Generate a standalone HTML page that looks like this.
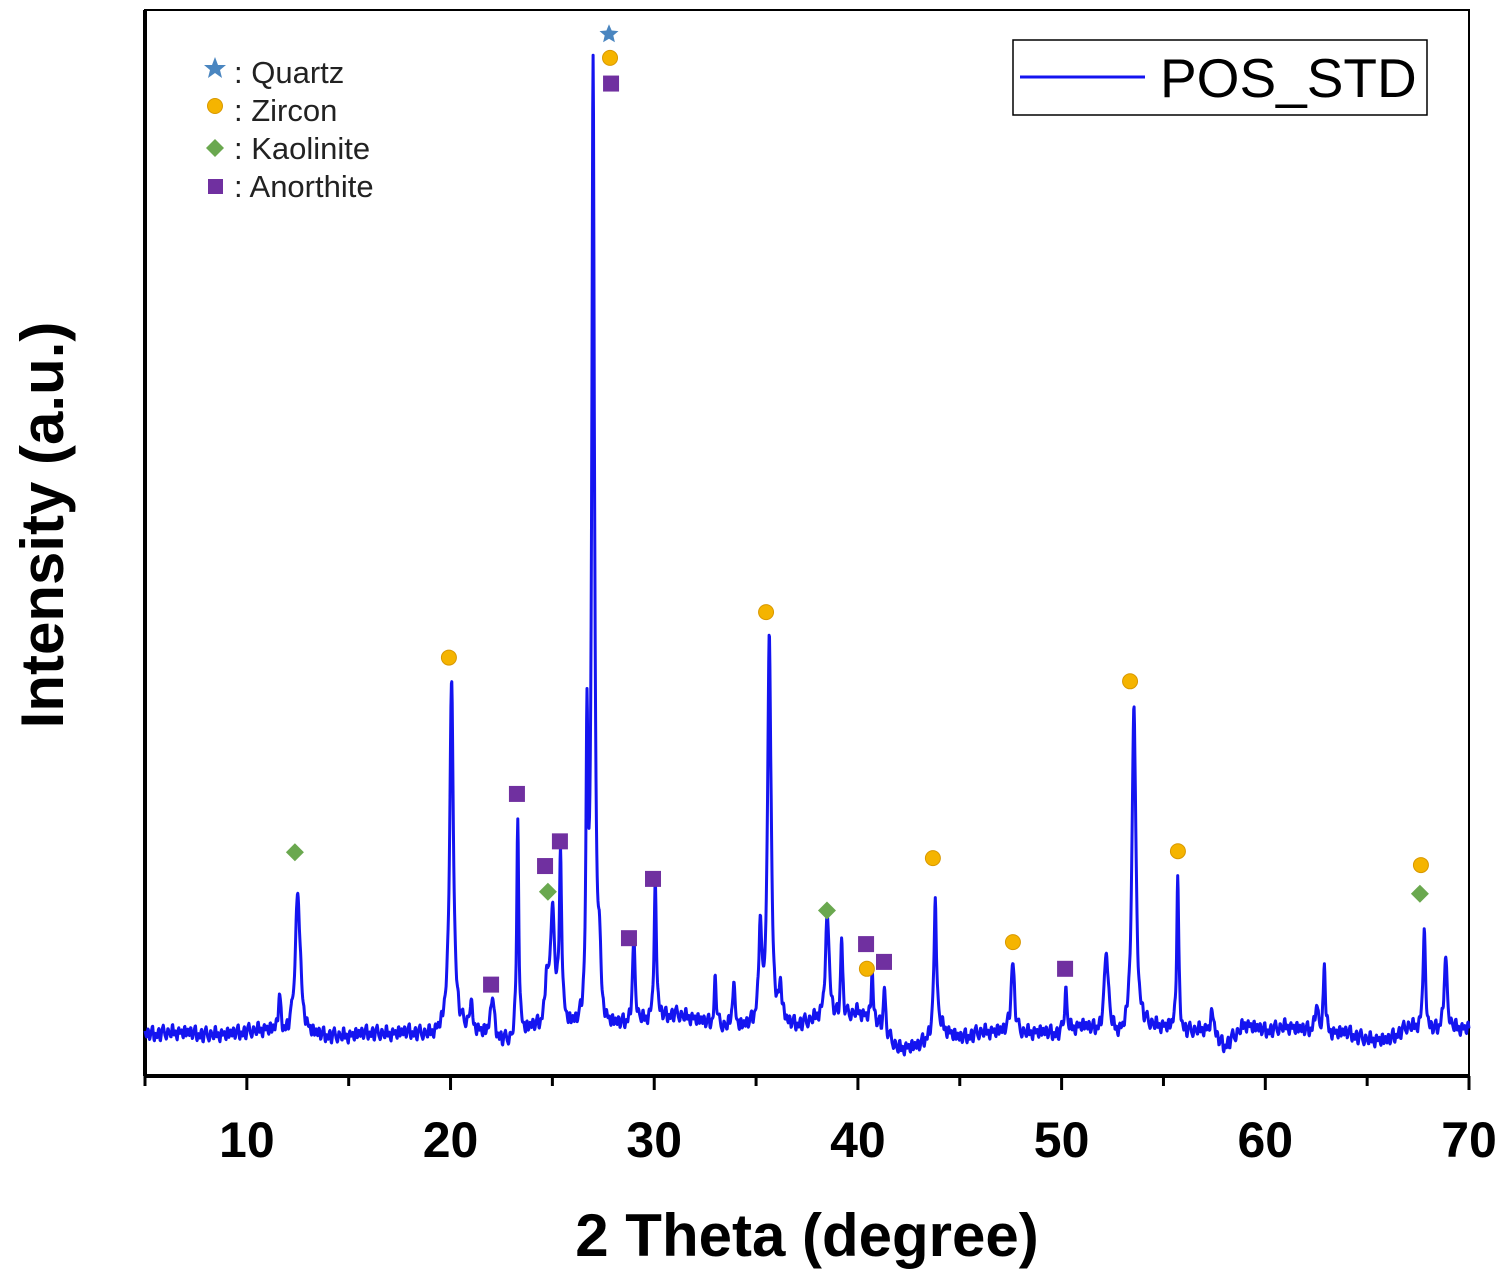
<!DOCTYPE html>
<html><head><meta charset="utf-8">
<style>
html,body{margin:0;padding:0;background:#fff;}
svg{display:block;font-family:"Liberation Sans",Arial,sans-serif;}
</style></head>
<body>
<svg id="chart" width="1508" height="1274" viewBox="0 0 1508 1274">
  <rect x="145" y="10" width="1324" height="1066" fill="#fff" stroke="#000" stroke-width="2"/>
  <line x1="145" y1="10" x2="145" y2="1076" stroke="#000" stroke-width="4"/>
  <line x1="145" y1="1076" x2="1469" y2="1076" stroke="#000" stroke-width="4"/>
  <g id="ticks"></g>
  <path id="spectrum" fill="none" stroke="#1414f0" stroke-width="3" stroke-linejoin="round"/>
  <g id="markers"></g>
  <g font-size="31" fill="#222">
    <polygon points="215,57 218,65 226,65 220,70 222,78 215,73 208,78 210,70 204,65 212,65" fill="#4a86c0"/>
    <text x="234" y="83">: Quartz</text>
    <circle cx="215" cy="106" r="7.5" fill="#f5b400" stroke="#d89800"/>
    <text x="234" y="121">: Zircon</text>
    <polygon points="215,139 224,148 215,157 206,148" fill="#6aa84f"/>
    <text x="234" y="159">: Kaolinite</text>
    <rect x="208" y="179" width="15" height="15" fill="#7030a0"/>
    <text x="234" y="197">: Anorthite</text>
  </g>
  <g>
    <rect x="1013" y="40" width="414" height="75" fill="#fff" stroke="#000" stroke-width="1.5"/>
    <line x1="1020" y1="77" x2="1145" y2="77" stroke="#1414f0" stroke-width="3"/>
    <text x="1160" y="97" font-size="55" fill="#000">POS_STD</text>
  </g>
  <text x="807" y="1256" font-size="60" font-weight="bold" text-anchor="middle">2 Theta (degree)</text>
  <text transform="translate(63,525) rotate(-90)" font-size="60" font-weight="bold" text-anchor="middle">Intensity (a.u.)</text>
</svg>
<script>
const tickValues=[10,20,30,40,50,60,70];
const minorTicks=[5,15,25,35,45,55,65];
const peakPos=[11.6,12.5,20.05,21.0,22.05,23.3,24.7,25.0,25.4,26.7,27.0,27.3,29.0,30.05,33.0,33.9,35.2,35.65,36.2,38.5,39.2,40.7,41.3,43.8,47.6,50.2,52.2,53.55,55.7,57.4,62.5,62.9,67.8,68.85];
const peakHeight=[35,145,350,25,42,220,40,120,170,285,985,60,80,135,50,50,95,400,35,108,85,50,50,140,75,45,85,335,155,25,25,70,105,70];
const peakWidth=[0.07,0.15,0.11,0.07,0.1,0.06,0.08,0.14,0.07,0.06,0.08,0.08,0.08,0.07,0.06,0.07,0.08,0.1,0.09,0.11,0.06,0.06,0.06,0.07,0.1,0.07,0.12,0.11,0.06,0.1,0.1,0.06,0.07,0.1];
const background=[0,2,2,0,0,3,4,-2,-2,-2,-2,2,0,2,-2,2,4,-4,-10,4,2,2,-6,5,10,12,20,15,8,4,8,6,8,14,12,22,8,-15,-12,6,-4,2,2,0,2,0,8,0,-5,6,6,2,4,-12,10,4,8,4,0,2,-5,-6,8,2,4,6];
const jitter=[4,-3,7,-6,2,9,-8,1,-4,6,-9,3,8,-2,-7,5,0,-5,10,-3,2,-8,6,-1,3,-6,8,-4];
const zirconX=[27.83,19.92,35.49,40.44,43.68,47.61,53.36,55.71,67.64];
const zirconY=[989,382,428,67,179,94,358,186,172];
const anorthiteX=[27.88,21.99,23.26,24.64,25.37,28.76,29.94,40.40,41.28,50.17];
const anorthiteY=[963,51,244,171,196,98,158,92,74,67];
const kaoliniteX=[12.36,24.78,38.48,67.59];
const kaoliniteY=[185,145,126,143];
const quartzX=[27.78];
const quartzY=[1013];

const X=v=>145+(v-5)*(1324/65);
const Y=v=>1035-v*0.988;
const NS='http://www.w3.org/2000/svg';
const ticks=document.getElementById('ticks');
tickValues.forEach(t=>{
  const l=document.createElementNS(NS,'line');
  l.setAttribute('x1',X(t));l.setAttribute('x2',X(t));l.setAttribute('y1',1076);l.setAttribute('y2',1090);
  l.setAttribute('stroke','#000');l.setAttribute('stroke-width','3');
  
  
  ticks.appendChild(l);
  const tx=document.createElementNS(NS,'text');
  tx.setAttribute('x',X(t));tx.setAttribute('y',1157);tx.setAttribute('text-anchor','middle');
  tx.setAttribute('font-size','50');tx.setAttribute('font-weight','bold');
  tx.textContent=t;
  
  
  ticks.appendChild(tx);
});
minorTicks.forEach(t=>{
  const l=document.createElementNS(NS,'line');
  l.setAttribute('x1',X(t));l.setAttribute('x2',X(t));l.setAttribute('y1',1076);l.setAttribute('y2',1086);
  l.setAttribute('stroke','#000');l.setAttribute('stroke-width','3');
  
  
  ticks.appendChild(l);
});
let d='';
const STEP=0.02, JSTEP=0.075;
for(let i=0;i<=3250;i++){
  const x=5+i*STEP;
  const k=Math.min(Math.floor(x-5),background.length-2);
  const f=(x-5)-k;
  const jp=(x-5)/JSTEP, jk=Math.floor(jp), jf=jp-jk;
  const jv=jitter[jk%jitter.length]*(1-jf)+jitter[(jk+1)%jitter.length]*jf;
  let v=background[k]*(1-f)+background[k+1]*f+jv;
  for(let p=0;p<peakPos.length;p++){
    const z=(x-peakPos[p])/peakWidth[p];
    v+=peakHeight[p]/(1+z*z);
  }
  d+=(i?'L':'M')+X(x).toFixed(1)+' '+Y(v).toFixed(1);
}
document.getElementById('spectrum').setAttribute('d',d);
const mg=document.getElementById('markers');
zirconX.forEach((x,i)=>{
  const c=document.createElementNS(NS,'circle');
  c.setAttribute('cx',X(x));c.setAttribute('cy',Y(zirconY[i]));c.setAttribute('r',7.5);
  c.setAttribute('fill','#f5b400');c.setAttribute('stroke','#d89800');
  
  
  mg.appendChild(c);
});
anorthiteX.forEach((x,i)=>{
  const r=document.createElementNS(NS,'rect');
  r.setAttribute('x',X(x)-8);r.setAttribute('y',Y(anorthiteY[i])-8);r.setAttribute('width',16);r.setAttribute('height',16);
  r.setAttribute('fill','#7030a0');
  
  
  mg.appendChild(r);
});
kaoliniteX.forEach((x,i)=>{
  const cx=X(x),cy=Y(kaoliniteY[i]);
  const p=document.createElementNS(NS,'polygon');
  p.setAttribute('points',`${cx},${cy-9} ${cx+9},${cy} ${cx},${cy+9} ${cx-9},${cy}`);
  p.setAttribute('fill','#6aa84f');
  
  
  mg.appendChild(p);
});
quartzX.forEach((x,i)=>{
  const cx=X(x),cy=Y(quartzY[i]);
  const pts=[];
  for(let j=0;j<10;j++){const a=-Math.PI/2+j*Math.PI/5;const r=j%2?4.5:10;pts.push((cx+r*Math.cos(a)).toFixed(1)+','+(cy+r*Math.sin(a)).toFixed(1));}
  const p=document.createElementNS(NS,'polygon');
  p.setAttribute('points',pts.join(' '));
  p.setAttribute('fill','#4a86c0');
  
  
  mg.appendChild(p);
});
</script>
</body></html>
